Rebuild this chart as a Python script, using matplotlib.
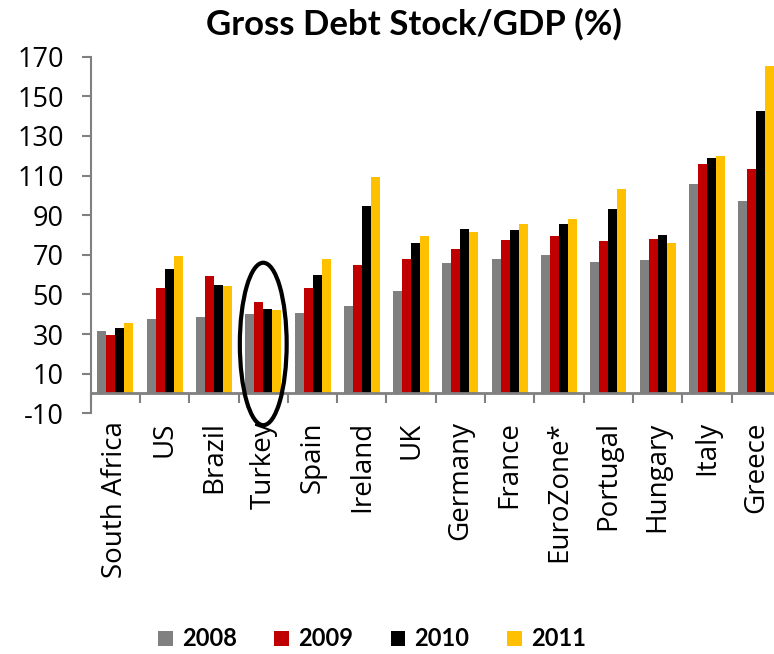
import matplotlib
matplotlib.use("Agg")
import matplotlib.pyplot as plt
from matplotlib.patches import Ellipse, Patch
import numpy as np

countries = ["South Africa", "US", "Brazil", "Turkey", "Spain", "Ireland", "UK",
             "Germany", "France", "EuroZone*", "Portugal", "Hungary", "Italy", "Greece"]
years = ["2008", "2009", "2010", "2011"]
v2008 = [31.5, 37.6, 38.6, 40.1, 40.6, 44.3, 51.8, 65.9, 67.9, 69.9, 66.4, 67.4, 105.8, 97.2]
v2009 = [29.5, 53.4, 59.3, 46.2, 53.4, 64.9, 67.9, 72.9, 77.4, 79.5, 77.0, 78.0, 115.9, 113.3]
v2010 = [33.2, 62.8, 54.8, 42.8, 59.8, 94.8, 76.0, 83.0, 82.5, 85.5, 93.1, 80.0, 118.9, 142.6]
v2011 = [35.6, 69.4, 54.3, 42.3, 67.9, 109.4, 79.5, 81.5, 85.5, 88.0, 103.2, 76.0, 119.9, 165.3]
yticks = [-10, 10, 30, 50, 70, 90, 110, 130, 150, 170]
colors = ["#808080", "#C00000", "#000000", "#FFC000"]

plt.rcParams['font.family'] = ['Open Sans', 'DejaVu Sans']
plt.rcParams['axes.unicode_minus'] = False

W, H = 774, 654
fig = plt.figure(figsize=(W/100, H/100), dpi=100)
left = 90.7 / W
bottom = (H - 413.3) / H
height = (413.3 - 56.7) / H
width = 14 * 49.3 / W
ax = fig.add_axes([left, bottom, width, height])

series = [v2008, v2009, v2010, v2011]
x = np.arange(len(countries))
bw = 0.183
for i, (vals, c) in enumerate(zip(series, colors)):
    ax.bar(x + (i - 1.5) * bw, vals, width=bw, color=c, label=years[i], zorder=2)

ax.set_xlim(-0.5, len(countries) - 0.5)
ax.set_ylim(-10, 170)
ax.set_yticks(yticks)
ax.tick_params(axis='y', labelsize=19.5, length=6.5, width=1.5, color='#808080', pad=13)

for s in ['top', 'right']:
    ax.spines[s].set_visible(False)
ax.spines['left'].set_color('#808080')
ax.spines['left'].set_linewidth(1.5)
ax.spines['bottom'].set_position(('data', 0))
ax.spines['bottom'].set_color('#808080')
ax.spines['bottom'].set_linewidth(2)
ax.spines['bottom'].set_zorder(3)

ax.set_xticks(x)
ax.set_xticklabels(countries, rotation=90, fontsize=20, va='top', ha='center')
ax.set_xticks(np.arange(-0.5, len(countries), 1.0), minor=True)
ax.tick_params(axis='x', which='major', length=0, pad=20)
ax.tick_params(axis='x', which='minor', length=7, width=1.5, color='#808080', direction='out')

fig.text(414 / W, 1 - 24 / H, "Gross Debt Stock/GDP (%)", fontsize=25, fontweight='bold',
         ha='center', va='center', family=['Lato', 'DejaVu Sans'])

ell = Ellipse((3, 25), width=0.95, height=82, fill=False, edgecolor='black',
              linewidth=3, clip_on=False, zorder=5)
ax.add_patch(ell)

handles = [Patch(facecolor=c, edgecolor='none') for c in colors]
leg = fig.legend(handles, years, loc='center', bbox_to_anchor=(372 / W, 1 - 639 / H),
                 ncol=4, frameon=False, handlelength=0.62, handleheight=0.62,
                 handletextpad=0.38, columnspacing=1.6,
                 prop={'size': 17, 'weight': 'bold', 'family': ['Lato', 'DejaVu Sans']})

fig.savefig("out.png", dpi=100)
